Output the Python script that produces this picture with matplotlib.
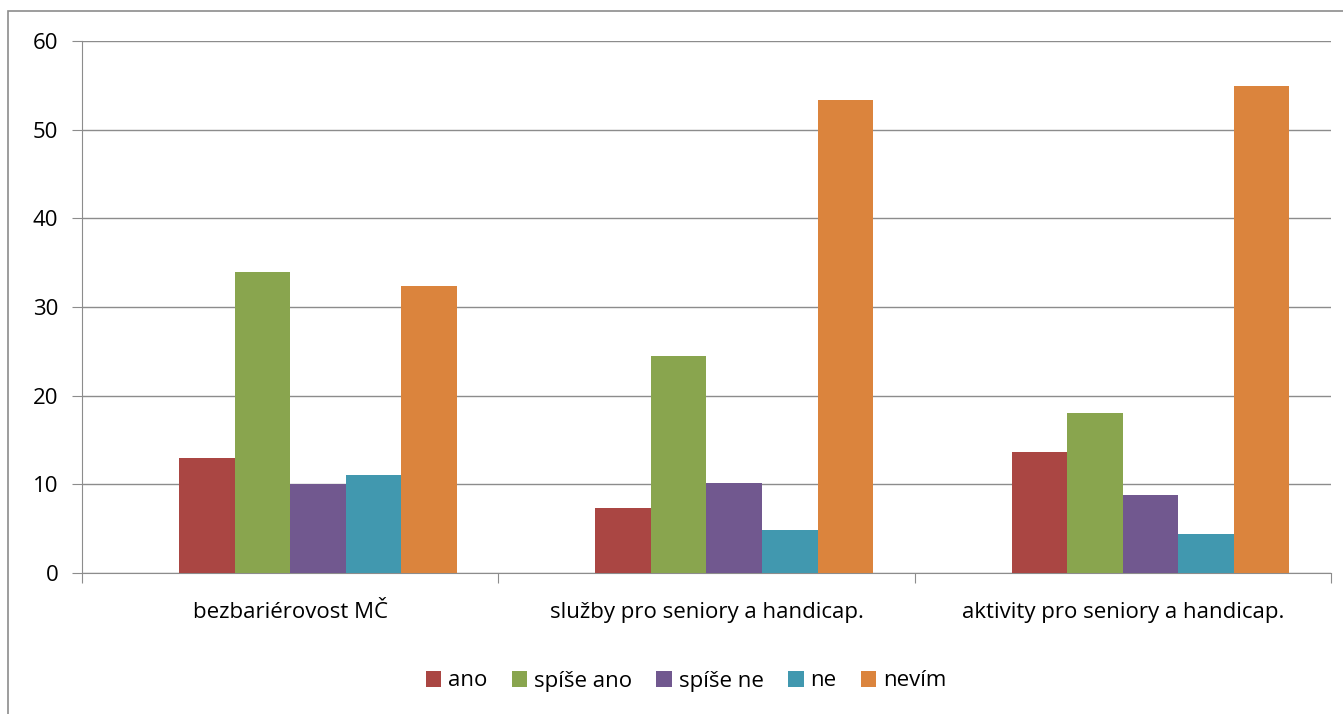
import numpy as np
import matplotlib
matplotlib.use("Agg")
from matplotlib import pyplot as plt
from matplotlib.patches import Rectangle

plt.rcParams['font.family'] = ['Open Sans', 'DejaVu Sans']

# data
categories = ["bezbariérovost MČ", "služby pro seniory a handicap.", "aktivity pro seniory a handicap."]
series_names = ["ano", "spíše ano", "spíše ne", "ne", "nevím"]
ano = [13.0, 7.3, 13.7]
spise_ano = [34.0, 24.5, 18.1]
spise_ne = [10.0, 10.1, 8.8]
ne = [11.0, 4.8, 4.4]
nevim = [32.4, 53.4, 54.9]
colors = ["#AA4643", "#89A54E", "#71588F", "#4198AF", "#DB843D"]

values = [ano, spise_ano, spise_ne, ne, nevim]
fs = 16

fig = plt.figure(figsize=(13.43, 7.14), dpi=100)
ax = fig.add_axes([82/1343, 1-573/714, (1331-82)/1343, (573-41)/714])

# excel layout: 6 slots per category (first one empty), gap 150 %
n_slots = 6
w = 1.0 / (n_slots + 1.5)
x = np.arange(len(categories))
for i, (name, vals, c) in enumerate(zip(series_names, values, colors)):
    slot = i + 1
    offs = (slot - (n_slots - 1) / 2) * w
    ax.bar(x + offs, vals, width=w, color=c, label=name, zorder=3)

ax.set_xlim(-0.5, len(categories) - 0.5)
ax.set_ylim(0, 60)
ax.set_yticks(range(0, 61, 10))
ax.yaxis.grid(True, color="#8c8c8c", linewidth=1)
ax.set_axisbelow(True)

for s in ["top", "right"]:
    ax.spines[s].set_visible(False)
ax.spines["left"].set_color("#8c8c8c")
ax.spines["bottom"].set_color("#8c8c8c")

# category labels, ticks at the boundaries
ax.set_xticks(np.arange(-0.5, len(categories), 1.0))
ax.set_xticklabels([])
ax.set_xticks(x, minor=True)
ax.set_xticklabels(categories, minor=True, fontsize=fs)
ax.tick_params(axis="x", which="minor", length=0, pad=21)
ax.tick_params(axis="x", which="major", length=7, color="#8c8c8c")
ax.tick_params(axis="y", length=7, color="#8c8c8c", labelsize=fs, pad=10)

fig.legend(loc="center", bbox_to_anchor=(686/1343, 1-681/714), ncol=5, frameon=False,
           fontsize=fs, handlelength=0.7, handleheight=0.7, handletextpad=0.3,
           columnspacing=1.1)

# chart border (cut off at right/bottom)
fig.patches.append(Rectangle((8/1343, -0.1), 1.2, 0.1 + 1 - 11/714, transform=fig.transFigure,
                             fill=False, edgecolor="#8c8c8c", linewidth=1.2))

fig.savefig("out.png", dpi=100)
